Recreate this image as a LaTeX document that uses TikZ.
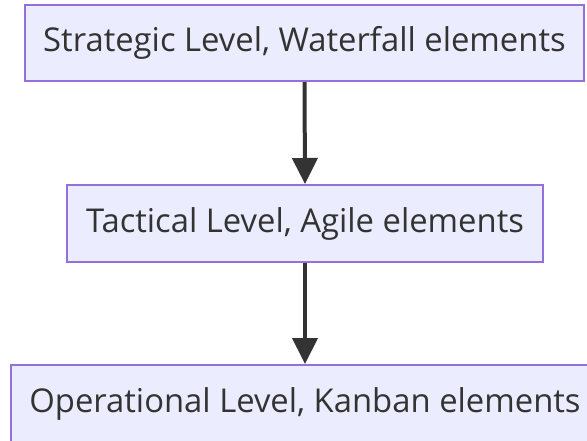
\documentclass[tikz,border=0pt]{standalone}
\usepackage{fontspec}
\setmainfont{Open Sans}
\usetikzlibrary{arrows.meta}
\definecolor{boxfill}{HTML}{ECECFF}
\definecolor{boxline}{HTML}{9370DB}
\definecolor{ink}{HTML}{333333}
\begin{document}
\begin{tikzpicture}[x=1pt,y=-1pt,
  levelbox/.style={draw=boxline, fill=boxfill, line width=2pt, inner sep=0pt,
    text=ink, font=\fontsize{32.8}{36}\selectfont, anchor=center},
  flow/.style={draw=ink, line width=4pt,
    -{Triangle[width=25pt,length=26pt]}}]
  \useasboundingbox (0,0) rectangle (587,440);
  \clip (0,0) rectangle (587,440);
  \node[levelbox, minimum width=559pt, minimum height=76pt] (strat) at (304.5,43) {Strategic Level, Waterfall elements};
  \node[levelbox, minimum width=476pt, minimum height=77pt] (tact) at (305,223.5) {Tactical Level, Agile elements};
  \node[levelbox, minimum width=588pt, minimum height=77pt] (oper) at (305,403.5) {Operational Level, Kanban elements};
  \draw[flow] (strat.south) -- (tact.north);
  \draw[flow] (tact.south) -- (oper.north);
\end{tikzpicture}
\end{document}
